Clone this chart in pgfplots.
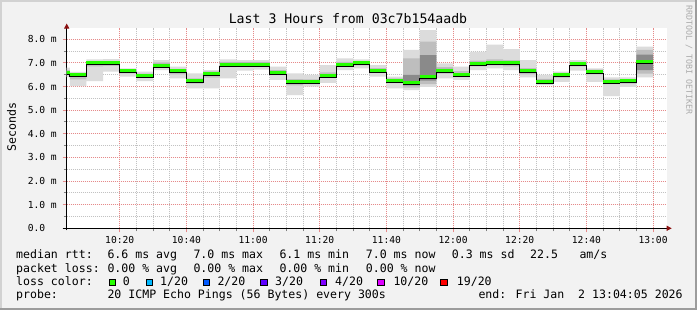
\documentclass[border=0pt]{standalone}
\usepackage{pgfplots}
\pgfplotsset{compat=1.18}
\usepackage{pgfplotstable}
\usepgfplotslibrary{fillbetween}
\usetikzlibrary{arrows.meta}
\usepackage{fontspec}
\setmainfont{DejaVu Sans Mono}

\definecolor{bg}{HTML}{F2F2F2}
\definecolor{borderlight}{HTML}{D2D2D2}
\definecolor{borderdark}{HTML}{9C9C9C}
\definecolor{majgrid}{HTML}{E68A8A}
\definecolor{mingrid}{HTML}{C2C2C2}
\definecolor{arrowred}{HTML}{8B1010}
\definecolor{smokeA}{HTML}{DCDCDC}
\definecolor{smokeB}{HTML}{BEBEBE}
\definecolor{smokeC}{HTML}{8A8A8A}
\definecolor{medgreen}{HTML}{26FF00}
\definecolor{l1}{HTML}{00B8FF}
\definecolor{l2}{HTML}{0059FF}
\definecolor{l3}{HTML}{5E00FF}
\definecolor{l4}{HTML}{7E00FF}
\definecolor{l10}{HTML}{DD00FF}
\definecolor{l19}{HTML}{FF0000}
\definecolor{wmgray}{HTML}{ABABAB}

\newcommand\tickfont{\fontsize{9.65}{11}\selectfont}
\newcommand\legfont{\fontsize{11.56}{13}\selectfont}
\newcommand\titfont{\fontsize{13.2}{15}\selectfont}
\newcommand\wmfont{\fontsize{8.3}{10}\selectfont}

% t = minutes after 10:00, med = median rtt (ms), lo/hi = smoke bands
\pgfplotstableread{
t   med  lo1  hi1  lo2  hi2  lo3  hi3
0   6.60 6.40 6.80 6.50 6.70 6.55 6.65
5   6.50 6.02 6.62 6.30 6.56 6.42 6.54
10  7.00 6.23 7.15 6.85 7.08 6.93 7.04
15  7.00 6.63 7.16 6.88 7.08 6.94 7.04
20  6.66 6.42 6.77 6.56 6.72 6.62 6.70
25  6.47 6.23 6.63 6.38 6.55 6.43 6.51
30  6.91 6.70 7.12 6.80 7.02 6.86 6.96
35  6.66 6.35 6.84 6.52 6.75 6.60 6.71
40  6.25 5.92 6.56 6.12 6.35 6.20 6.30
45  6.56 5.92 6.70 6.38 6.64 6.50 6.61
50  6.95 6.35 7.15 6.82 7.05 6.90 7.00
55  6.95 6.67 7.12 6.85 7.04 6.90 7.00
60  6.95 6.72 7.12 6.85 7.04 6.90 7.00
65  6.61 6.28 6.84 6.48 6.70 6.56 6.66
70  6.20 5.64 6.56 6.05 6.32 6.14 6.25
75  6.20 6.00 6.49 6.10 6.30 6.15 6.25
80  6.48 6.16 6.91 6.38 6.60 6.43 6.53
85  6.94 6.70 7.19 6.84 7.05 6.89 6.99
90  7.00 6.77 7.15 6.90 7.08 6.95 7.05
95  6.68 6.42 6.91 6.58 6.78 6.63 6.73
100 6.27 5.92 6.42 6.15 6.35 6.22 6.32
105 6.18 5.85 7.55 5.95 7.19 6.05 6.49
110 6.41 5.99 8.39 6.10 7.90 6.25 7.33
115 6.69 6.35 6.98 6.55 6.82 6.63 6.75
120 6.52 6.28 6.84 6.40 6.65 6.47 6.57
125 6.99 6.70 7.47 6.85 7.10 6.94 7.04
130 7.03 6.77 7.78 6.90 7.15 6.98 7.08
135 7.00 6.70 7.58 6.85 7.12 6.95 7.05
140 6.66 6.39 7.12 6.52 6.78 6.61 6.71
145 6.23 6.06 6.49 6.12 6.33 6.18 6.28
150 6.50 6.20 6.63 6.38 6.58 6.45 6.55
155 6.97 6.67 7.12 6.85 7.05 6.92 7.02
160 6.63 6.20 6.77 6.52 6.72 6.58 6.68
165 6.20 5.60 6.39 6.10 6.30 6.15 6.25
170 6.25 5.99 6.39 6.12 6.32 6.20 6.30
175 7.06 6.39 7.69 6.55 7.55 6.70 7.35
180 7.06 6.39 7.69 6.55 7.55 6.70 7.35
}\smoke

\begin{document}
\begin{tikzpicture}[x=1pt,y=1pt]
\begin{axis}[
  set layers,
  at={(66.7pt,81.7pt)}, anchor=south west,
  scale only axis, width=600pt, height=200.8pt,
  xmin=4.083, xmax=184.083, ymin=0, ymax=8.5,
  axis x line=bottom, axis y line=left,
  x axis line style={line width=1pt, black, -{Triangle[length=5pt,width=5pt,color=arrowred,fill=arrowred]}, shorten >=-5pt, shorten <=-4pt},
  y axis line style={line width=1pt, black, -{Triangle[length=5pt,width=5pt,color=arrowred,fill=arrowred]}, shorten >=-4pt, shorten <=-2pt},
  xtick={20,40,...,180},
  xticklabels={10:20,10:40,11:00,11:20,11:40,12:00,12:20,12:40,13:00},
  minor x tick num=3,
  ytick={0,1,...,8},
  yticklabels={{0.0\phantom{\ m}},{1.0 m},{2.0 m},{3.0 m},{4.0 m},{5.0 m},{6.0 m},{7.0 m},{8.0 m}},
  minor y tick num=1,
  grid=both,
  major grid style={majgrid, line width=1pt, dash pattern=on 1pt off 1pt},
  minor grid style={mingrid, line width=1pt, dash pattern=on 1pt off 1pt},
  tick align=outside,
  major tick length=4pt, minor tick length=3pt,
  major tick style={majgrid, line width=1pt},
  minor tick style={gray, line width=1pt},
  xticklabel style={font=\tickfont, anchor=base, inner sep=0pt, yshift=-10.9pt},
  yticklabel style={font=\tickfont, anchor=east, inner sep=0pt, xshift=-5.7pt},
  clip mode=individual,
]
\begin{pgfonlayer}{axis background}
\fill[bg] (axis cs:-15.93,-3.458) rectangle (axis cs:193.17,9.664);
\fill[white] (rel axis cs:0,0) rectangle (rel axis cs:1,1);
\end{pgfonlayer}
\addplot[name path=a1, draw=none, const plot mark left, forget plot] table[x=t,y=lo1]{\smoke};
\addplot[name path=a2, draw=none, const plot mark left, forget plot] table[x=t,y=hi1]{\smoke};
\addplot[smokeA, draw=none, forget plot] fill between[of=a1 and a2];
\addplot[name path=b1, draw=none, const plot mark left, forget plot] table[x=t,y=lo2]{\smoke};
\addplot[name path=b2, draw=none, const plot mark left, forget plot] table[x=t,y=hi2]{\smoke};
\addplot[smokeB, draw=none, forget plot] fill between[of=b1 and b2];
\addplot[name path=c1, draw=none, const plot mark left, forget plot] table[x=t,y=lo3]{\smoke};
\addplot[name path=c2, draw=none, const plot mark left, forget plot] table[x=t,y=hi3]{\smoke};
\addplot[smokeC, draw=none, forget plot] fill between[of=c1 and c2];
\addplot[const plot mark left, black, line width=1pt, yshift=-2pt, forget plot] table[x=t,y=med]{\smoke};
\addplot[jump mark left, medgreen, line width=3pt, forget plot] table[x=t,y=med]{\smoke};
\end{axis}

% frame
\fill[borderlight] (0,0) rectangle (2,310);
\fill[borderlight] (0,308) rectangle (697,310);
\fill[borderdark] (695,0) rectangle (697,310);
\fill[borderdark] (0,0) rectangle (697,2);

% title
\node[anchor=base, inner sep=0pt, font=\titfont] at (348,286) {Last 3 Hours from 03c7b154aadb};
% y label
\node[rotate=90, anchor=center, inner sep=0pt, font=\legfont] at (11.5,183) {Seconds};
% watermark
\node[rotate=-90, anchor=center, inner sep=0pt, font=\wmfont, text=wmgray] at (689,250) {RRDTOOL / TOBI OETIKER};

\begin{scope}[every node/.style={anchor=base west, inner sep=0pt, font=\legfont}]
\node at (16,51) {median rtt:};
\node at (107.3,51) {6.6 ms avg};
\node at (193.3,51) {7.0 ms max};
\node at (279.3,51) {6.1 ms min};
\node at (365.7,51) {7.0 ms now};
\node at (451.7,51) {0.3 ms sd};
\node at (530,51) {22.5};
\node at (579.3,51) {am/s};
\node at (16,37.7) {packet loss:};
\node at (107.3,37.7) {0.00 \% avg};
\node at (193.3,37.7) {0.00 \% max};
\node at (279.3,37.7) {0.00 \% min};
\node at (365.7,37.7) {0.00 \% now};
\node at (16,24.4) {loss color:};
\node at (122.7,24.4) {0};
\node at (160,24.4) {1/20};
\node at (217.3,24.4) {2/20};
\node at (275,24.4) {3/20};
\node at (335,24.4) {4/20};
\node at (393.3,24.4) {10/20};
\node at (456.7,24.4) {19/20};
\node at (16,11.1) {probe:};
\node at (107.3,11.1) {20 ICMP Echo Pings (56 Bytes) every 300s};
\node at (478.3,11.1) {end: Fri Jan\ \ 2 13:04:05 2026};
\end{scope}
\foreach \bx/\bc in {109/medgreen,146/l1,203.3/l2,260.7/l3,320/l4,377.7/l10,440.7/l19}{
  \filldraw[fill=\bc, draw=black, line width=0.8pt] (\bx,24.6) rectangle ++(6.4,6.4);
}
\pgfresetboundingbox
\path[use as bounding box] (0,0) rectangle (697,310);
\end{tikzpicture}
\end{document}
